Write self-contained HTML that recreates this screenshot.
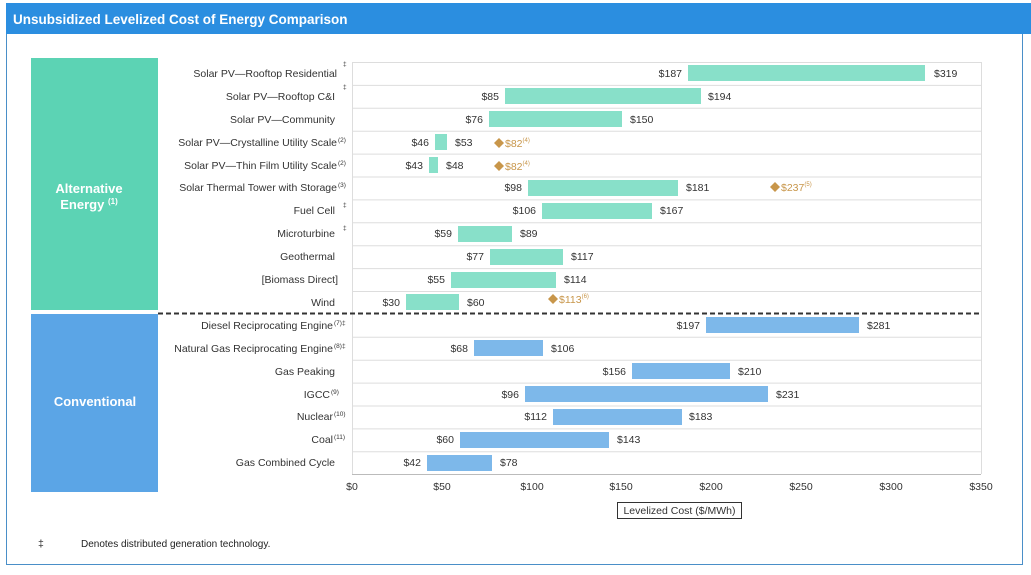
<!DOCTYPE html>
<html><head><meta charset="utf-8"><style>
body{margin:0;background:#fff;width:1031px;height:570px;overflow:hidden;font-family:"Liberation Sans",Arial,sans-serif}
</style></head><body>
<svg width="1031" height="570" xmlns="http://www.w3.org/2000/svg" font-family="Liberation Sans, Arial, sans-serif">
<rect x="6.5" y="3.5" width="1016" height="561" fill="#fff" stroke="#4a8fc8"/>
<rect x="6" y="3" width="1025" height="31" fill="#2b8ee0"/>
<text x="13" y="24" fill="#fff" font-weight="bold" font-size="13.5">Unsubsidized  Levelized Cost of Energy Comparison</text>
<rect x="31" y="58" width="127" height="252" fill="#5cd3b4"/>
<rect x="31" y="314" width="127" height="178" fill="#5ba5e6"/>
<text x="89" y="193" fill="#fff" font-weight="bold" font-size="13" text-anchor="middle">Alternative</text>
<text x="89" y="209" fill="#fff" font-weight="bold" font-size="13" text-anchor="middle">Energy <tspan font-size="8" dy="-5">(1)</tspan></text>
<text x="95" y="406" fill="#fff" font-weight="bold" font-size="13" text-anchor="middle">Conventional</text>
<g stroke="#ddd" stroke-width="1">
<line x1="352" y1="62.5" x2="981" y2="62.5"/>
<line x1="352" y1="85.4" x2="981" y2="85.4"/><line x1="352" y1="108.3" x2="981" y2="108.3"/><line x1="352" y1="131.2" x2="981" y2="131.2"/><line x1="352" y1="154.1" x2="981" y2="154.1"/><line x1="352" y1="177" x2="981" y2="177"/><line x1="352" y1="199.9" x2="981" y2="199.9"/><line x1="352" y1="222.8" x2="981" y2="222.8"/><line x1="352" y1="245.7" x2="981" y2="245.7"/><line x1="352" y1="268.6" x2="981" y2="268.6"/><line x1="352" y1="291.5" x2="981" y2="291.5"/><line x1="352" y1="337.3" x2="981" y2="337.3"/><line x1="352" y1="360.2" x2="981" y2="360.2"/><line x1="352" y1="383.1" x2="981" y2="383.1"/><line x1="352" y1="406" x2="981" y2="406"/><line x1="352" y1="428.9" x2="981" y2="428.9"/><line x1="352" y1="451.8" x2="981" y2="451.8"/>
<line x1="352.5" y1="62" x2="352.5" y2="474"/><line x1="981.5" y1="62" x2="981.5" y2="474"/>
</g>
<line x1="352" y1="474.5" x2="981" y2="474.5" stroke="#bbb"/>
<line x1="158" y1="313.5" x2="981" y2="313.5" stroke="#333" stroke-width="2" stroke-dasharray="5,3"/>
<g font-size="10.5" fill="#333" text-anchor="end">
<text x="337" y="77">Solar PV—Rooftop Residential</text>
<text x="335" y="100">Solar PV—Rooftop C&amp;I</text>
<text x="335" y="123">Solar PV—Community</text>
<text x="337" y="146">Solar PV—Crystalline Utility Scale</text>
<text x="337" y="169">Solar PV—Thin Film Utility Scale</text>
<text x="337" y="191">Solar Thermal Tower with Storage</text>
<text x="335" y="214">Fuel Cell</text>
<text x="335" y="237">Microturbine</text>
<text x="335" y="260">Geothermal</text>
<text x="338" y="283">[Biomass Direct]</text>
<text x="335" y="306">Wind</text>
<text x="333" y="329">Diesel Reciprocating Engine</text>
<text x="333" y="352">Natural Gas Reciprocating Engine</text>
<text x="335" y="375">Gas Peaking</text>
<text x="330" y="398">IGCC</text>
<text x="333" y="420">Nuclear</text>
<text x="333" y="443">Coal</text>
<text x="335" y="466">Gas Combined Cycle</text>
</g>
<g font-size="6.5" fill="#333">
<text x="343" y="66">‡</text><text x="343" y="89">‡</text>
<text x="338" y="142">(2)</text><text x="338" y="165">(2)</text><text x="338" y="187">(3)</text>
<text x="343" y="207">‡</text><text x="343" y="230">‡</text>
<text x="334" y="325">(7)‡</text><text x="334" y="348">(8)‡</text>
<text x="331" y="394">(9)</text><text x="334" y="416">(10)</text><text x="334" y="439">(11)</text>
</g>
<g fill="#88e0c9">
<rect x="688" y="65" width="237" height="16"/>
<rect x="505" y="88" width="196" height="16"/>
<rect x="489" y="111" width="133" height="16"/>
<rect x="435" y="134" width="12" height="16"/>
<rect x="429" y="157" width="9" height="16"/>
<rect x="528" y="180" width="150" height="16"/>
<rect x="542" y="203" width="110" height="16"/>
<rect x="458" y="226" width="54" height="16"/>
<rect x="490" y="249" width="73" height="16"/>
<rect x="451" y="272" width="105" height="16"/>
<rect x="406" y="294" width="53" height="16"/>
</g>
<g fill="#7db8ea">
<rect x="706" y="317" width="153" height="16"/>
<rect x="474" y="340" width="69" height="16"/>
<rect x="632" y="363" width="98" height="16"/>
<rect x="525" y="386" width="243" height="16"/>
<rect x="553" y="409" width="129" height="16"/>
<rect x="460" y="432" width="149" height="16"/>
<rect x="427" y="455" width="65" height="16"/>
</g>
<g font-size="10.5" fill="#333">
<g text-anchor="end">
<text x="682" y="77">$187</text><text x="499" y="100">$85</text><text x="483" y="123">$76</text><text x="429" y="146">$46</text><text x="423" y="169">$43</text><text x="522" y="191">$98</text><text x="536" y="214">$106</text><text x="452" y="237">$59</text><text x="484" y="260">$77</text><text x="445" y="283">$55</text><text x="400" y="306">$30</text>
<text x="700" y="329">$197</text><text x="468" y="352">$68</text><text x="626" y="375">$156</text><text x="519" y="398">$96</text><text x="547" y="420">$112</text><text x="454" y="443">$60</text><text x="421" y="466">$42</text>
</g>
<text x="934" y="77">$319</text><text x="708" y="100">$194</text><text x="630" y="123">$150</text><text x="455" y="146">$53</text><text x="446" y="169">$48</text><text x="686" y="191">$181</text><text x="660" y="214">$167</text><text x="520" y="237">$89</text><text x="571" y="260">$117</text><text x="564" y="283">$114</text><text x="467" y="306">$60</text>
<text x="867" y="329">$281</text><text x="551" y="352">$106</text><text x="738" y="375">$210</text><text x="776" y="398">$231</text><text x="689" y="420">$183</text><text x="617" y="443">$143</text><text x="500" y="466">$78</text>
</g>
<g fill="#c8964a">
<path d="M499 138l5 5-5 5-5-5z"/><path d="M499 161l5 5-5 5-5-5z"/><path d="M775 182l5 5-5 5-5-5z"/><path d="M553 294l5 5-5 5-5-5z"/>
</g>
<g font-size="10.5" fill="#c8964a">
<text x="505" y="147">$82<tspan font-size="6" dy="-5">(4)</tspan></text>
<text x="505" y="170">$82<tspan font-size="6" dy="-5">(4)</tspan></text>
<text x="781" y="191">$237<tspan font-size="6" dy="-5">(5)</tspan></text>
<text x="559" y="303">$113<tspan font-size="6" dy="-5">(6)</tspan></text>
</g>
<g font-size="10.5" fill="#333" text-anchor="middle">
<text x="352" y="490">$0</text><text x="442" y="490">$50</text><text x="532" y="490">$100</text><text x="621" y="490">$150</text><text x="711" y="490">$200</text><text x="801" y="490">$250</text><text x="891" y="490">$300</text><text x="981" y="490">$350</text>
</g>
<rect x="617.5" y="502.5" width="124" height="16" fill="#fff" stroke="#333"/>
<text x="679.5" y="514" font-size="10.5" fill="#333" text-anchor="middle">Levelized Cost ($/MWh)</text>
<text x="38" y="547" font-size="10.5" fill="#222">‡</text>
<text x="81" y="547" font-size="10" fill="#222">Denotes distributed generation technology.</text>
</svg>
</body></html>
